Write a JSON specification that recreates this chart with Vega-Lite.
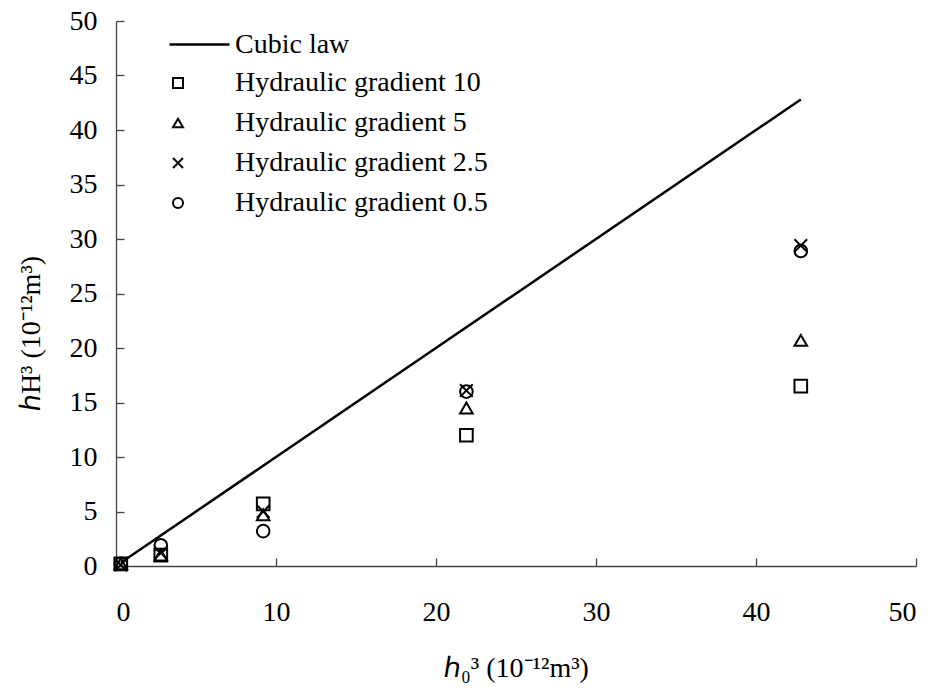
{
  "$schema": "https://vega.github.io/schema/vega-lite/v6.json",
  "width": 800,
  "height": 545,
  "autosize": {"type": "none"},
  "padding": {"left": 116, "top": 21, "right": 19, "bottom": 125},
  "background": "white",
  "config": {
    "font": "Times New Roman, Liberation Serif, serif",
    "view": {"stroke": null},
    "axis": {
      "grid": false,
      "domainColor": "#444",
      "tickColor": "#444",
      "domainWidth": 1.3,
      "tickWidth": 1.3,
      "tickSize": -8,
      "labelFont": "Times New Roman, Liberation Serif, serif",
      "labelFontSize": 28,
      "labelColor": "black",
      "titleFont": "Times New Roman, Liberation Serif, serif",
      "titleFontSize": 28,
      "titleFontWeight": "normal",
      "titleColor": "black"
    },
    "legend": {
      "orient": "none",
      "labelFont": "Times New Roman, Liberation Serif, serif",
      "labelFontSize": 28,
      "labelColor": "black",
      "labelLimit": 0,
      "padding": 0
    }
  },
  "layer": [
    {
      "data": {"values": [
        {"x": 0.3, "y": 0.3, "s": "Cubic law"},
        {"x": 42.8, "y": 42.8, "s": "Cubic law"}
      ]},
      "mark": {"type": "line", "strokeWidth": 2.5},
      "encoding": {
        "x": {"field": "x", "type": "quantitative", "scale": {"domain": [0, 50], "nice": false},
              "axis": {"values": [0, 10, 20, 30, 40, 50], "labelPadding": 40, "title": "ℎ₀³ (10⁻¹²m³)", "titlePadding": 28}},
        "y": {"field": "y", "type": "quantitative", "scale": {"domain": [0, 50], "nice": false},
              "axis": {"values": [0, 5, 10, 15, 20, 25, 30, 35, 40, 45, 50], "labelPadding": 27, "title": "ℎH³ (10⁻¹²m³)", "titlePadding": 24, "titleY": 312}},
        "color": {"field": "s", "type": "nominal", "scale": {"range": ["black"]},
                  "legend": {"title": null, "legendX": 52, "legendY": -8, "symbolType": "stroke", "symbolSize": 3600, "symbolStrokeWidth": 2.5, "labelOffset": 4}}
      }
    },
    {
      "data": {"values": [
        {"x": 0.3, "y": 0.2, "series": "Hydraulic gradient 10"},
        {"x": 2.8, "y": 1.0, "series": "Hydraulic gradient 10"},
        {"x": 9.2, "y": 5.7, "series": "Hydraulic gradient 10"},
        {"x": 21.9, "y": 12.0, "series": "Hydraulic gradient 10"},
        {"x": 42.8, "y": 16.5, "series": "Hydraulic gradient 10"},
        {"x": 0.3, "y": 0.2, "series": "Hydraulic gradient 5"},
        {"x": 2.8, "y": 1.0, "series": "Hydraulic gradient 5"},
        {"x": 9.2, "y": 4.7, "series": "Hydraulic gradient 5"},
        {"x": 21.9, "y": 14.5, "series": "Hydraulic gradient 5"},
        {"x": 42.8, "y": 20.7, "series": "Hydraulic gradient 5"},
        {"x": 0.3, "y": 0.1, "series": "Hydraulic gradient 2.5"},
        {"x": 2.8, "y": 1.2, "series": "Hydraulic gradient 2.5"},
        {"x": 9.2, "y": 5.0, "series": "Hydraulic gradient 2.5"},
        {"x": 21.9, "y": 16.1, "series": "Hydraulic gradient 2.5"},
        {"x": 42.8, "y": 29.4, "series": "Hydraulic gradient 2.5"},
        {"x": 0.3, "y": 0.2, "series": "Hydraulic gradient 0.5"},
        {"x": 2.8, "y": 1.9, "series": "Hydraulic gradient 0.5"},
        {"x": 9.2, "y": 3.2, "series": "Hydraulic gradient 0.5"},
        {"x": 21.9, "y": 16.0, "series": "Hydraulic gradient 0.5"},
        {"x": 42.8, "y": 28.9, "series": "Hydraulic gradient 0.5"}
      ]},
      "mark": {"type": "point", "filled": false, "color": "black", "strokeWidth": 2, "size": 160, "opacity": 1},
      "encoding": {
        "x": {"field": "x", "type": "quantitative"},
        "y": {"field": "y", "type": "quantitative"},
        "shape": {"field": "series", "type": "nominal",
                  "scale": {"domain": ["Hydraulic gradient 10", "Hydraulic gradient 5", "Hydraulic gradient 2.5", "Hydraulic gradient 0.5"],
                            "range": ["square", "triangle-up", "M-1,-1L1,1M-1,1L1,-1", "circle"]},
                  "legend": {"title": null, "legendX": 48, "legendY": 48, "symbolSize": 100, "symbolStrokeWidth": 2, "symbolStrokeColor": "black", "symbolFillColor": "transparent", "labelOffset": 43, "rowPadding": 12}}
      }
    }
  ]
}
